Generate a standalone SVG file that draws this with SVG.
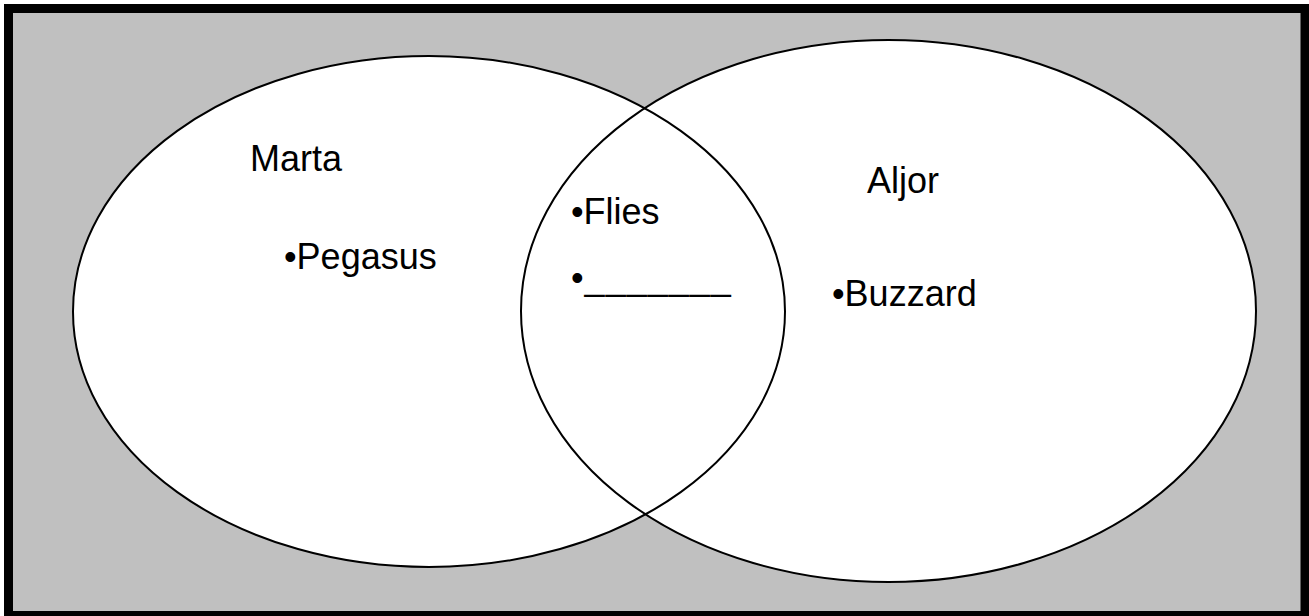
<svg xmlns="http://www.w3.org/2000/svg" width="1309" height="616" viewBox="0 0 1309 616">
<style>
.t{font-family:"Liberation Sans",Arial,sans-serif;font-size:36px;fill:#000}
.ol{fill:none;stroke:#000;stroke-width:2}
</style>
<rect x="0" y="0" width="1309" height="616" fill="#fff"/>
<rect x="8.5" y="8.5" width="1296.5" height="607" fill="#c0c0c0" stroke="#000" stroke-width="9"/>
<g id="fills">
<ellipse cx="429" cy="311.5" rx="356" ry="255.5" fill="#fff"/>
<ellipse cx="888.5" cy="311" rx="367.5" ry="271" fill="#fff"/>
</g>
<g id="marta">
<ellipse class="ol" cx="429" cy="311.5" rx="356" ry="255.5"/>
<text class="t" x="250" y="171">Marta</text>
<text class="t" x="284" y="269">•Pegasus</text>
</g>
<g id="aljor">
<ellipse class="ol" cx="888.5" cy="311" rx="367.5" ry="271"/>
<text class="t" x="867" y="193">Aljor</text>
<text class="t" x="832" y="306">•Buzzard</text>
</g>
<g id="both">
<text class="t" x="571" y="224">•Flies</text>
<text class="t" x="571" y="290" letter-spacing="1">•_______</text>
</g>
<g id="connectors"></g>
</svg>
